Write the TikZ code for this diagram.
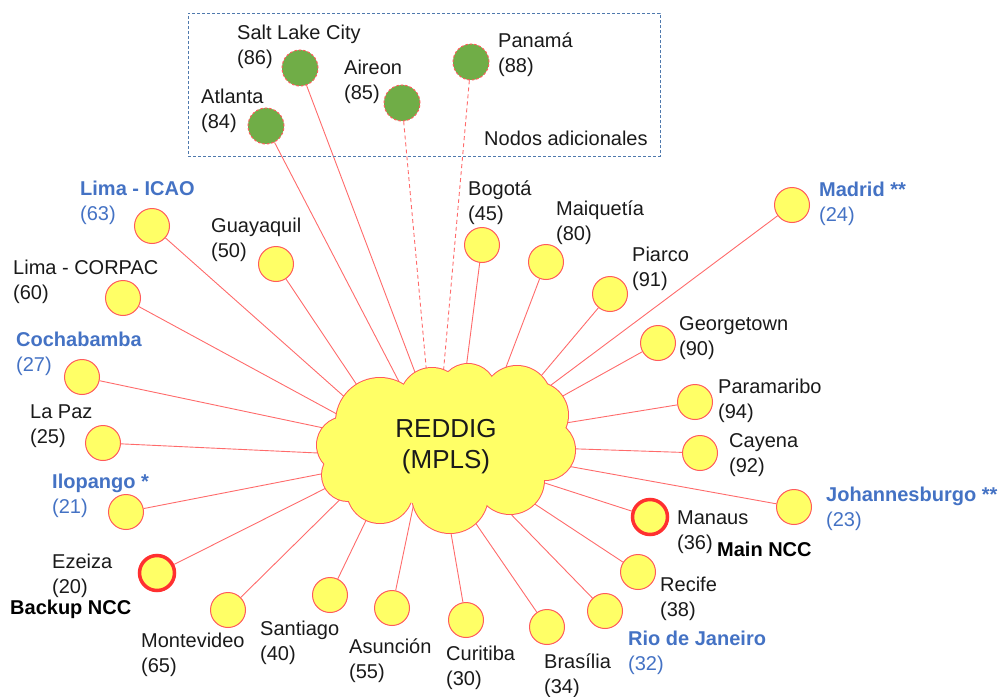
\documentclass[tikz,border=0pt]{standalone}
\usepackage{fontspec}
\setmainfont{Liberation Sans}
\usetikzlibrary{backgrounds}

\definecolor{sitefill}{HTML}{FFFF66}
\definecolor{siteedge}{HTML}{FF5B5B}
\definecolor{linkred}{HTML}{FF6B6B}
\definecolor{nccred}{HTML}{FF3030}
\definecolor{extragreen}{HTML}{70AD47}
\definecolor{hilite}{HTML}{4472C4}
\definecolor{frameblue}{HTML}{4F79AD}
\definecolor{ink}{HTML}{1A1A1A}

\begin{document}
\begin{tikzpicture}[x=1pt,y=-1pt,
  site/.style={circle,draw=siteedge,fill=sitefill,line width=1pt,minimum size=35pt,inner sep=0pt},
  ncc/.style={site,draw=nccred,line width=3.5pt},
  extrasite/.style={circle,draw=siteedge,fill=extragreen,line width=1pt,dash pattern=on 2.5pt off 2pt,minimum size=36pt,inner sep=0pt},
  link/.style={draw=linkred,line width=0.9pt},
  extralink/.style={link,dash pattern=on 4pt off 3pt},
  lbl/.style={anchor=north west,inner sep=0pt,align=left,text=ink,font=\fontsize{20}{25}\selectfont,execute at begin node=\strut},
  keylbl/.style={lbl,text=hilite},
  rolelbl/.style={lbl,font=\fontsize{20}{25}\selectfont\bfseries,text=black},
  frame/.style={draw=frameblue,line width=0.9pt,dash pattern=on 3pt off 2pt,inner sep=0pt}]

\useasboundingbox (0,0) rectangle (1001,696);

% frame around the additional nodes
\node[frame,minimum width=472pt,minimum height=143pt] (extras) at (424,84.5) {};

% central MPLS cloud: a ring of puffs, outlined then filled over
\def\puffs{345/445/28, 380/422/44, 432/400/32, 468/392/28, 517/400/34,
           535/415/33, 545/450/30, 510/480/34, 450/495/38, 380/490/33, 348/475/26}
\foreach \px/\py/\pr in \puffs
  \draw[siteedge,line width=2pt] (\px,\py) circle[radius=\pr];
\foreach \px/\py/\pr in \puffs
  \fill[sitefill] (\px,\py) circle[radius=\pr];
\fill[sitefill] (446,448) ellipse[x radius=105,y radius=58];
\node[align=center,text=ink,inner sep=0pt,font=\fontsize{26}{31}\selectfont] (hub) at (446,447) {REDDIG\\(MPLS)};

% additional nodes
\node[extrasite] (cSLC) at (300,68) {};
\node[extrasite] (cAtl) at (266,126) {};
\node[extrasite] (cAir) at (402,103) {};
\node[extrasite] (cPan) at (471,62) {};

% sites
\node[site] (cLimaI) at (152,226) {};
\node[site] (cGuay)  at (276,264) {};
\node[site] (cLimaC) at (123,298) {};
\node[site] (cCoch)  at (82,377) {};
\node[site] (cLaPaz) at (103,443) {};
\node[site] (cIlo)   at (126,512) {};
\node[ncc]  (cEze)   at (157,573) {};
\node[site] (cMont)  at (228,610) {};
\node[site] (cSant)  at (330,595) {};
\node[site] (cAsu)   at (392,608) {};
\node[site] (cCur)   at (466,620) {};
\node[site] (cBra)   at (547,627) {};
\node[site] (cRio)   at (605,611) {};
\node[site] (cRec)   at (638,572) {};
\node[ncc]  (cMan)   at (650,517) {};
\node[site] (cJoh)   at (794,507) {};
\node[site] (cCay)   at (700,453) {};
\node[site] (cPar)   at (695,402) {};
\node[site] (cGeo)   at (658,343) {};
\node[site] (cPia)   at (610,294) {};
\node[site] (cMad)   at (792,205) {};
\node[site] (cMaiq)  at (546,262) {};
\node[site] (cBog)   at (482,245) {};

% link end points, hidden under the cloud
\coordinate (tSLC)   at (430,412);
\coordinate (tAtl)   at (420,422);
\coordinate (tAir)   at (430,410);
\coordinate (tPan)   at (440,410);
\coordinate (tLimaI) at (384,432);
\coordinate (tGuay)  at (383,424);
\coordinate (tLimaC) at (381,438);
\coordinate (tCoch)  at (371,438);
\coordinate (tLaPaz) at (361,455);
\coordinate (tIlo)   at (362,466);
\coordinate (tEze)   at (364,469);
\coordinate (tMont)  at (380,460);
\coordinate (tSant)  at (386,479);
\coordinate (tAsu)   at (416,493);
\coordinate (tCur)   at (447,510);
\coordinate (tBra)   at (470,515);
\coordinate (tRio)   at (500,503);
\coordinate (tRec)   at (512,489);
\coordinate (tMan)   at (520,475);
\coordinate (tJoh)   at (545,462);
\coordinate (tCay)   at (550,448);
\coordinate (tPar)   at (541,427);
\coordinate (tGeo)   at (543,407);
\coordinate (tPia)   at (525,395);
\coordinate (tMad)   at (527,403);
\coordinate (tMaiq)  at (495,396);
\coordinate (tBog)   at (462,400);

% links
\begin{scope}[on background layer]
  \draw[link] (cSLC) -- (tSLC);
  \draw[link] (cAtl) -- (tAtl);
  \draw[extralink] (cAir) -- (tAir);
  \draw[extralink] (cPan) -- (tPan);
  \foreach \s in {LimaI,Guay,LimaC,Coch,LaPaz,Ilo,Eze,Mont,Sant,Asu,Cur,Bra,Rio,Rec,Man,Joh,Cay,Par,Geo,Pia,Mad,Maiq,Bog}
    \draw[link] (c\s) -- (t\s);
\end{scope}

% labels
\node[lbl] (lSLC)  at (237,25)   {Salt Lake City\\(86)};
\node[lbl] (lAir)  at (344,59.5) {Aireon\\(85)};
\node[lbl] (lAtl)  at (201,88.5) {Atlanta\\(84)};
\node[lbl] (lPan)  at (498,32.5) {Panamá\\(88)};
\node[lbl] (lNod)  at (484,127.5) {Nodos adicionales};

\node[keylbl] (lLimaI) at (80,180.5)  {\textbf{Lima - ICAO}\\(63)};
\node[lbl]    (lGuay)  at (211,217.5) {Guayaquil\\(50)};
\node[lbl]    (lLimaC) at (13,259.5)  {Lima - CORPAC\\(60)};
\node[keylbl] (lCoch)  at (16,331.5)  {\textbf{Cochabamba}\\(27)};
\node[lbl]    (lLaPaz) at (30,404.5)  {La Paz\\(25)};
\node[keylbl] (lIlo)   at (52,473.5)  {\textbf{Ilopango *}\\(21)};
\node[lbl]    (lEze)   at (52,553.5)  {Ezeiza\\(20)};
\node[rolelbl] (lBack) at (10,597)    {Backup NCC};
\node[lbl]    (lMont)  at (141,632.5) {Montevideo\\(65)};
\node[lbl]    (lSant)  at (260,620.5) {Santiago\\(40)};
\node[lbl]    (lAsu)   at (349,638.5) {Asunción\\(55)};
\node[lbl]    (lCur)   at (446,645.5) {Curitiba\\(30)};
\node[lbl]    (lBra)   at (544,653.5) {Brasília\\(34)};
\node[keylbl] (lRio)   at (628,630.5) {\textbf{Rio de Janeiro}\\(32)};
\node[lbl]    (lRec)   at (660,576.5) {Recife\\(38)};
\node[lbl]    (lMan)   at (677,510.5) {Manaus\\(36)};
\node[rolelbl] (lMain) at (717,539)   {Main NCC};
\node[keylbl] (lJoh)   at (826,486.5) {\textbf{Johannesburgo **}\\(23)};
\node[lbl]    (lCay)   at (729,433.5) {Cayena\\(92)};
\node[lbl]    (lPar)   at (718,378.5) {Paramaribo\\(94)};
\node[lbl]    (lGeo)   at (679,316.5) {Georgetown\\(90)};
\node[lbl]    (lPia)   at (632,246.5) {Piarco\\(91)};
\node[keylbl] (lMad)   at (819,181.5) {\textbf{Madrid **}\\(24)};
\node[lbl]    (lMaiq)  at (556,200.5) {Maiquetía\\(80)};
\node[lbl]    (lBog)   at (468,180.5) {Bogotá\\(45)};
\end{tikzpicture}
\end{document}
